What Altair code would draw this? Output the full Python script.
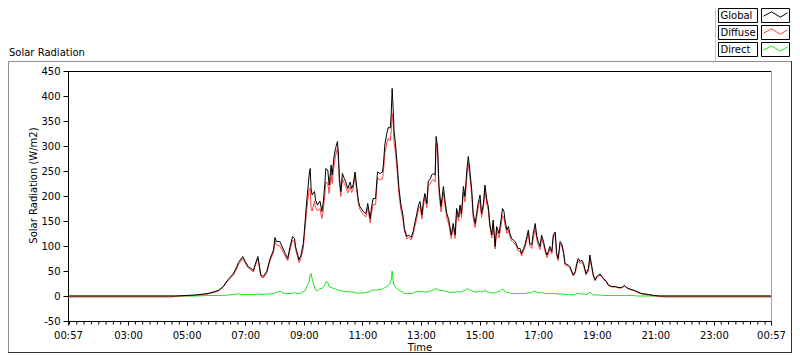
import altair as alt
import pandas as pd

# ---------------- data ----------------
times = [
    "00:57", "04:30", "04:40", "05:17", "05:44", "06:05", "06:15", "06:25", "06:36", "06:43",
    "06:46", "06:55", "07:00", "07:06", "07:12", "07:17", "07:20", "07:26", "07:32", "07:37",
    "07:44", "07:51", "07:58", "08:01", "08:04", "08:11", "08:15", "08:22", "08:27", "08:32",
    "08:37", "08:41", "08:43", "08:48", "08:50", "08:54", "08:59", "09:02", "09:06", "09:11",
    "09:13", "09:15", "09:17", "09:22", "09:24", "09:28", "09:33", "09:37", "09:40", "09:43",
    "09:45", "09:49", "09:52", "09:56", "09:58", "10:02", "10:05", "10:09", "10:11", "10:13",
    "10:16", "10:19", "10:23", "10:26", "10:30", "10:35", "10:38", "10:41", "10:45", "10:48",
    "10:52", "10:55", "11:02", "11:07", "11:11", "11:16", "11:19", "11:22", "11:27", "11:31",
    "11:36", "11:41", "11:43", "11:46", "11:50", "11:53", "11:57", "11:59", "12:01", "12:03",
    "12:05", "12:08", "12:12", "12:15", "12:19", "12:23", "12:26", "12:31", "12:35", "12:40",
    "12:44", "12:48", "12:51", "12:55", "12:58", "13:02", "13:05", "13:08", "13:12", "13:15",
    "13:19", "13:22", "13:25", "13:29", "13:31", "13:34", "13:37", "13:41", "13:46", "13:49",
    "13:53", "13:57", "14:02", "14:06", "14:10", "14:13", "14:17", "14:20", "14:23", "14:27",
    "14:30", "14:34", "14:37", "14:40", "14:44", "14:47", "14:51", "14:54", "14:57", "15:01",
    "15:04", "15:08", "15:11", "15:15", "15:18", "15:21", "15:25", "15:28", "15:32", "15:35",
    "15:40", "15:44", "15:47", "15:50", "15:52", "15:56", "15:59", "16:02", "16:06", "16:09",
    "16:13", "16:16", "16:19", "16:23", "16:26", "16:30", "16:33", "16:37", "16:40", "16:43",
    "16:47", "16:50", "16:54", "16:57", "17:00", "17:04", "17:07", "17:11", "17:14", "17:18",
    "17:21", "17:24", "17:28", "17:31", "17:35", "17:38", "17:41", "17:45", "17:48", "17:52",
    "17:55", "18:02", "18:05", "18:12", "18:16", "18:19", "18:22", "18:26", "18:29", "18:33",
    "18:38", "18:43", "18:46", "18:50", "18:53", "18:57", "19:00", "19:07", "19:14", "19:20",
    "19:24", "19:31", "19:38", "19:44", "19:51", "19:57", "20:01", "20:08", "20:15", "20:22",
    "20:32", "20:46", "20:59", "21:10", "21:20", "24:57",
]

global_rad = [
    0, 0, 0, 2, 5, 11, 19, 33, 45, 59,
    67, 79, 69, 59, 55, 51, 62, 79, 42, 39,
    49, 75, 92, 117, 109, 109, 100, 85, 75, 99,
    119, 115, 99, 81, 72, 81, 105, 140, 190, 242,
    255, 215, 202, 209, 192, 182, 190, 169, 189, 222,
    255, 252, 222, 262, 242, 279, 295, 309, 282, 235,
    209, 245, 235, 228, 215, 228, 215, 222, 248, 222,
    189, 179, 169, 165, 185, 155, 179, 195, 195, 248,
    245, 248, 262, 302, 325, 337, 336, 362, 415, 375,
    329, 302, 255, 215, 182, 162, 135, 119, 122, 117,
    129, 149, 162, 182, 189, 162, 189, 205, 185, 230,
    234, 242, 245, 242, 319, 299, 219, 179, 219, 192,
    165, 152, 122, 145, 122, 175, 158, 182, 165, 219,
    199, 252, 279, 252, 212, 165, 145, 165, 185, 202,
    165, 185, 222, 192, 179, 145, 122, 152, 99, 139,
    125, 152, 175, 169, 152, 132, 139, 125, 115, 112,
    109, 102, 95, 95, 85, 95, 102, 119, 132, 105,
    102, 125, 145, 122, 109, 99, 122, 109, 95, 82,
    89, 99, 89, 122, 128, 85, 75, 109, 105, 89,
    65, 62, 59, 42, 49, 65, 75, 69, 72, 65,
    45, 55, 82, 59, 42, 32, 39, 44, 35, 29,
    22, 19, 19, 17, 17, 21, 17, 14, 12, 9,
    5, 3, 1, 0, 0, 0,
]

diffuse_rad = [
    -2, -2, 0, 1, 4, 10, 18, 31, 42, 55,
    63, 75, 66, 56, 52, 48, 59, 75, 39, 36,
    45, 71, 87, 110, 102, 100, 93, 80, 70, 93,
    112, 108, 93, 76, 67, 75, 96, 130, 172, 215,
    215, 175, 170, 190, 178, 170, 175, 155, 172, 200,
    228, 226, 205, 243, 225, 262, 280, 296, 270, 224,
    199, 235, 225, 219, 206, 219, 207, 214, 240, 215,
    183, 173, 163, 158, 177, 146, 168, 183, 183, 236,
    232, 234, 247, 285, 306, 316, 310, 330, 365, 345,
    307, 285, 241, 203, 172, 155, 130, 114, 117, 112,
    123, 141, 153, 173, 180, 154, 180, 197, 177, 221,
    224, 231, 233, 228, 305, 286, 207, 168, 208, 182,
    156, 144, 115, 137, 115, 166, 150, 173, 157, 208,
    188, 238, 265, 240, 201, 156, 137, 157, 176, 192,
    157, 176, 211, 183, 171, 138, 116, 145, 94, 131,
    116, 140, 161, 157, 143, 125, 132, 119, 110, 107,
    104, 97, 90, 90, 80, 90, 97, 113, 125, 99,
    95, 116, 135, 114, 102, 93, 115, 103, 90, 77,
    84, 94, 84, 116, 123, 81, 71, 105, 101, 85,
    62, 59, 56, 40, 46, 60, 70, 65, 68, 61,
    42, 50, 74, 55, 40, 30, 37, 42, 33, 28,
    21, 18, 18, 16, 16, 20, 16, 13, 11, 8,
    4, 2, 0, -1, -2, -2,
]

direct_rad = [
    0, 0, 0, 0, 1, 1, 1, 2, 3, 4,
    4, 3, 3, 3, 3, 3, 3, 4, 3, 3,
    4, 4, 5, 6, 7, 10, 7, 5, 5, 5,
    6, 6, 6, 5, 5, 6, 9, 10, 18, 28,
    42, 45, 35, 18, 12, 10, 15, 15, 18, 22,
    28, 28, 18, 18, 16, 15, 14, 12, 12, 11,
    10, 10, 9, 9, 9, 8, 8, 8, 7, 6,
    6, 6, 6, 7, 8, 9, 11, 12, 12, 12,
    13, 14, 15, 17, 19, 21, 26, 32, 50, 30,
    22, 17, 14, 12, 10, 7, 5, 5, 5, 5,
    6, 8, 9, 9, 9, 8, 9, 8, 8, 9,
    10, 11, 12, 14, 15, 13, 12, 11, 11, 10,
    9, 8, 7, 8, 7, 9, 8, 9, 8, 11,
    11, 14, 14, 12, 11, 9, 8, 8, 9, 10,
    8, 9, 11, 9, 8, 7, 6, 7, 5, 8,
    9, 12, 14, 12, 9, 7, 7, 6, 5, 5,
    5, 5, 5, 5, 5, 5, 5, 6, 7, 6,
    7, 9, 10, 8, 7, 6, 7, 6, 5, 5,
    5, 5, 5, 5, 5, 4, 4, 4, 4, 4,
    3, 3, 3, 2, 3, 5, 5, 4, 4, 4,
    3, 5, 8, 4, 2, 2, 2, 2, 1, 1,
    1, 1, 1, 1, 1, 1, 1, 1, 1, 0,
    0, 0, 0, 0, 0, 0,
]

series_names = ["Global", "Diffuse", "Direct"]
series_colors = ["#000000", "#ff4040", "#19e619"]
y_ticks = [-50, 0, 50, 100, 150, 200, 250, 300, 350, 400, 450]
x_major_ticks = [0.95, 3, 5, 7, 9, 11, 13, 15, 17, 19, 21, 23, 24.95]

assert len(times) == len(global_rad) == len(diffuse_rad) == len(direct_rad)


def to_hours(s):
    h, m = s.split(":")
    return int(h) + int(m) / 60.0


hours = [to_hours(t) for t in times]
values_by_series = {"Global": global_rad, "Diffuse": diffuse_rad, "Direct": direct_rad}

# minor ticks every 15 minutes (axis furniture)
x_minor_ticks = []
for q in range(4, 100):
    h = q / 4.0
    if q % 4 == 0 and (q // 4) % 2 == 1 and 3 <= q // 4 <= 23:
        continue
    x_minor_ticks.append(h)

FONT = "DejaVu Sans"
FS = 10

xscale = alt.Scale(domain=[0.95, 24.95], nice=False, zero=False)
yscale = alt.Scale(domain=[-50, 450], nice=False, zero=False)

xaxis = alt.Axis(
    values=x_major_ticks,
    labelExpr="utcFormat(datum.value * 3600000, '%H:%M')",
    title="Time",
    tickSize=4,
    labelPadding=5,
    grid=False,
    labelFlush=False,
    labelOverlap=False,
    titleX=351.5,
    titleY=26,
    titleBaseline="middle",
)
yaxis = alt.Axis(
    values=y_ticks,
    labelExpr="'' + datum.value",
    title="Solar Radiation (W/m2)",
    tickSize=5,
    labelPadding=3,
    grid=False,
    labelOverlap=False,
    titleX=-35,
    titleY=114,
    titleBaseline="middle",
)

one = pd.DataFrame({"k": [0]})


def hrule(y, x1, x2, color):
    return alt.Chart(one).mark_rule(color=color, strokeWidth=1).encode(
        x=alt.value(x1), x2=alt.value(x2), y=alt.value(y)
    )


def vrule(x, y1, y2, color):
    return alt.Chart(one).mark_rule(color=color, strokeWidth=1).encode(
        x=alt.value(x), y=alt.value(y1), y2=alt.value(y2)
    )


layers = []

# data lines: Direct at the bottom, Global on top
for name in ["Direct", "Diffuse", "Global"]:
    color = series_colors[series_names.index(name)]
    d = pd.DataFrame({"hours": hours, "value": values_by_series[name], "series": name})
    layers.append(
        alt.Chart(d)
        .mark_line(color=color, strokeWidth=1, clip=True)
        .encode(
            x=alt.X("hours:Q", scale=xscale, axis=xaxis),
            y=alt.Y("value:Q", scale=yscale, axis=yaxis),
        )
    )

# minor ticks on time axis
minor_df = pd.DataFrame({"hours": x_minor_ticks})
layers.append(
    alt.Chart(minor_df)
    .mark_rule(color="black", strokeWidth=1)
    .encode(
        x=alt.X("hours:Q", scale=xscale, axis=xaxis),
        y=alt.value(251),
        y2=alt.value(253.5),
    )
)

# plot frame: top black, right grey
layers.append(hrule(0.5, 0, 703, "black"))
layers.append(vrule(703.5, 0, 250, "#a0a0a0"))

# outer panel frame
layers.append(hrule(-9.5, -60, 724, "#909090"))
layers.append(vrule(-59.5, -10, 282, "#909090"))
layers.append(vrule(723.5, -10, 282, "#303030"))
layers.append(hrule(281.5, -60, 724, "#303030"))
layers.append(vrule(647.5, -63, -10, "#c8c8c8"))

# chart label
layers.append(
    alt.Chart(one)
    .mark_text(text="Solar Radiation", align="left", baseline="middle", font=FONT, fontSize=FS, color="black")
    .encode(x=alt.value(-59), y=alt.value(-18))
)

# legend (label box + sample box per series)
zig = "M-0.92,0.05L-0.31,-0.28L0.38,0.13L0.92,-0.21"
row_tops = [-63, -46, -29]
for name, color, top in zip(series_names, series_colors, row_tops):
    layers.append(
        alt.Chart(one)
        .mark_rect(fill="white", stroke="black", strokeWidth=1)
        .encode(x=alt.value(650.5), x2=alt.value(689.5), y=alt.value(top + 0.5), y2=alt.value(top + 14.5))
    )
    layers.append(
        alt.Chart(one)
        .mark_rect(fill="white", stroke="black", strokeWidth=1)
        .encode(x=alt.value(693.5), x2=alt.value(721.5), y=alt.value(top + 0.5), y2=alt.value(top + 14.5))
    )
    layers.append(
        alt.Chart(one)
        .mark_text(text=name, align="left", baseline="middle", font=FONT, fontSize=FS, color="black")
        .encode(x=alt.value(652.5), y=alt.value(top + 8))
    )
    layers.append(
        alt.Chart(one)
        .mark_point(shape=zig, size=676, filled=False, strokeWidth=1, opacity=1, color=color)
        .encode(x=alt.value(707.5), y=alt.value(top + 7.5))
    )

chart = (
    alt.layer(*layers)
    .properties(
        width=703,
        height=250,
        padding={"left": 60, "top": 63, "right": 21, "bottom": 32},
        autosize=alt.AutoSizeParams(type="none"),
        background="white",
    )
    .configure_view(stroke=None)
    .configure_axis(
        labelFont=FONT,
        labelFontSize=FS,
        titleFont=FONT,
        titleFontSize=FS,
        titleFontWeight="normal",
        labelColor="black",
        titleColor="black",
        domainColor="black",
        tickColor="black",
    )
)

chart.save("out.html", embed_options={"renderer": "svg", "actions": False})
